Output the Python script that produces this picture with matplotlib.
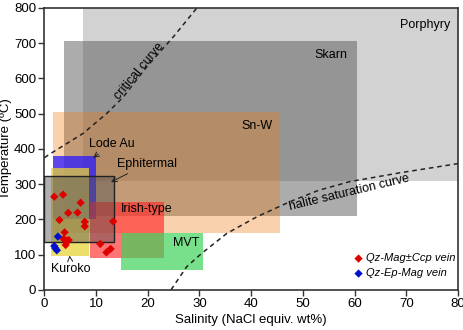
import matplotlib
matplotlib.use("Agg")
import matplotlib.pyplot as plt
from matplotlib.patches import Rectangle

plt.rcParams['font.family'] = ['Liberation Sans', 'DejaVu Sans']

# deposit fields: name, (salinity min, max), (temperature min, max)
fields = [
    ["Porphyry", (7.5, 80), (310, 800)],
    ["Skarn", (3.7, 60.5), (210, 705)],
    ["Sn-W", (1.7, 45.5), (162, 505)],
    ["Lode Au", (1.6, 10.0), (200, 380)],
    ["Kuroko", (1.3, 8.7), (95, 347)],
    ["Irish-type", (8.9, 23.1), (91, 248)],
    ["MVT", (14.8, 30.7), (57, 160)],
    ["Ephitermal", (0.0, 13.5), (135, 323)],
]

# fluid inclusion data
red_sal = [1.9, 3.6, 7.0, 4.6, 6.4, 2.9, 7.8, 7.8, 3.9, 3.7, 4.3, 4.7, 4.1, 13.3, 10.8, 12.0, 12.8]
red_temp = [264, 270, 247, 218, 219, 198, 193, 180, 163, 144, 140, 141, 127, 194, 130, 106, 116]
blue_sal = [2.6, 1.9, 2.1, 2.4]
blue_temp = [151, 124, 118, 112]

# curves
crit_sal = [0, 0.8, 7.5, 12.1, 15.3, 19.8, 25.0, 29.5]
crit_temp = [375, 383, 444, 501, 548, 633, 719, 800]
hal_sal = [24.5, 27.5, 30.4, 35.3, 41.1, 47.5, 53, 59.1, 68.8, 80]
hal_temp = [0, 65, 103, 160, 207, 250, 282, 307, 332, 358]

styles = {
    "Porphyry": dict(facecolor='#d2d2d2', alpha=1.0, zorder=1),
    "Skarn": dict(facecolor='#5a5a5a', alpha=0.5, zorder=2),
    "Sn-W": dict(facecolor='#f07d14', alpha=0.35, zorder=3),
    "Lode Au": dict(facecolor='#2a18ff', alpha=0.75, zorder=4),
    "Kuroko": dict(facecolor='#e8d23a', alpha=0.75, zorder=5),
    "Irish-type": dict(facecolor='#ff2a2a', alpha=0.65, zorder=5),
    "MVT": dict(facecolor='#3fd25a', alpha=0.7, zorder=5),
    "Ephitermal": dict(facecolor='#505050', alpha=0.45, zorder=6),
}

fig = plt.figure(figsize=(4.63, 3.30), dpi=100)
ax = fig.add_axes([0.096, 0.122, 0.893, 0.854])

for name, (x0, x1), (y0, y1) in fields:
    st = styles[name]
    ax.add_patch(Rectangle((x0, y0), x1 - x0, y1 - y0, facecolor=st['facecolor'],
                           alpha=st['alpha'], edgecolor='none', zorder=st['zorder']))
# black outline of the epithermal box
x0, x1 = fields[-1][1]
y0, y1 = fields[-1][2]
ax.add_patch(Rectangle((x0, y0), x1 - x0, y1 - y0, facecolor='none',
                       edgecolor='#222222', linewidth=1.0, zorder=7))

ax.plot(crit_sal, crit_temp, ls=(0, (3, 2.5)), color='#222222', lw=1.1, zorder=8)
ax.plot(hal_sal, hal_temp, ls=(0, (3, 2.5)), color='#222222', lw=1.1, zorder=8)

ax.scatter(red_sal, red_temp, marker='D', s=18, color='#dd0000', edgecolor='none',
           zorder=9, label='Qz-Mag±Ccp vein')
ax.scatter(blue_sal, blue_temp, marker='D', s=18, color='#0010cc', edgecolor='none',
           zorder=9, label='Qz-Ep-Mag vein')

fs = 9
ax.text(78.5, 752, "Porphyry", ha='right', va='center', fontsize=fs, zorder=10)
ax.text(58.7, 667, "Skarn", ha='right', va='center', fontsize=fs, zorder=10)
ax.text(44.2, 465, "Sn-W", ha='right', va='center', fontsize=fs, zorder=10)
ax.text(14.8, 228, "Irish-type", ha='left', va='center', fontsize=fs, zorder=10)
ax.text(29.9, 134, "MVT", ha='right', va='center', fontsize=fs, zorder=10)
ax.text(18.3, 620, "critical curve", ha='center', va='center', fontsize=fs,
        rotation=50, zorder=10)
ax.text(59, 275, "halite saturation curve", ha='center', va='center', fontsize=fs,
        rotation=13.5, zorder=10)

arrow = dict(arrowstyle='->', color='#222222', lw=0.7)
ax.annotate("Lode Au", xy=(9.0, 370), xytext=(8.7, 415), fontsize=fs,
            ha='left', va='center', arrowprops=arrow, zorder=10)
ax.annotate("Ephitermal", xy=(12.4, 302), xytext=(14.1, 358), fontsize=fs,
            ha='left', va='center', arrowprops=arrow, zorder=10)
ax.annotate("Kuroko", xy=(4.8, 105), xytext=(1.3, 59), fontsize=fs,
            ha='left', va='center', arrowprops=arrow, zorder=10)

ax.set_xlim(0, 80)
ax.set_ylim(0, 800)
ax.set_xticks(range(0, 81, 10))
ax.set_yticks(range(0, 801, 100))
ax.tick_params(labelsize=9.5, length=4, width=1, color='#333333', pad=2)
for sp in ax.spines.values():
    sp.set_linewidth(1.2)
    sp.set_color('#333333')
ax.set_xlabel("Salinity (NaCl equiv. wt%)", fontsize=9.5, labelpad=3)
ax.set_ylabel("Temperature (ºC)", fontsize=9.5, labelpad=1)

leg = ax.legend(loc='lower right', bbox_to_anchor=(0.995, 0.04), frameon=False,
                prop={'size': 8, 'style': 'italic'}, handletextpad=0.1,
                handlelength=1.2, labelspacing=0.45, borderaxespad=0, borderpad=0)
leg.set_zorder(11)

fig.savefig("out.png", dpi=100)
